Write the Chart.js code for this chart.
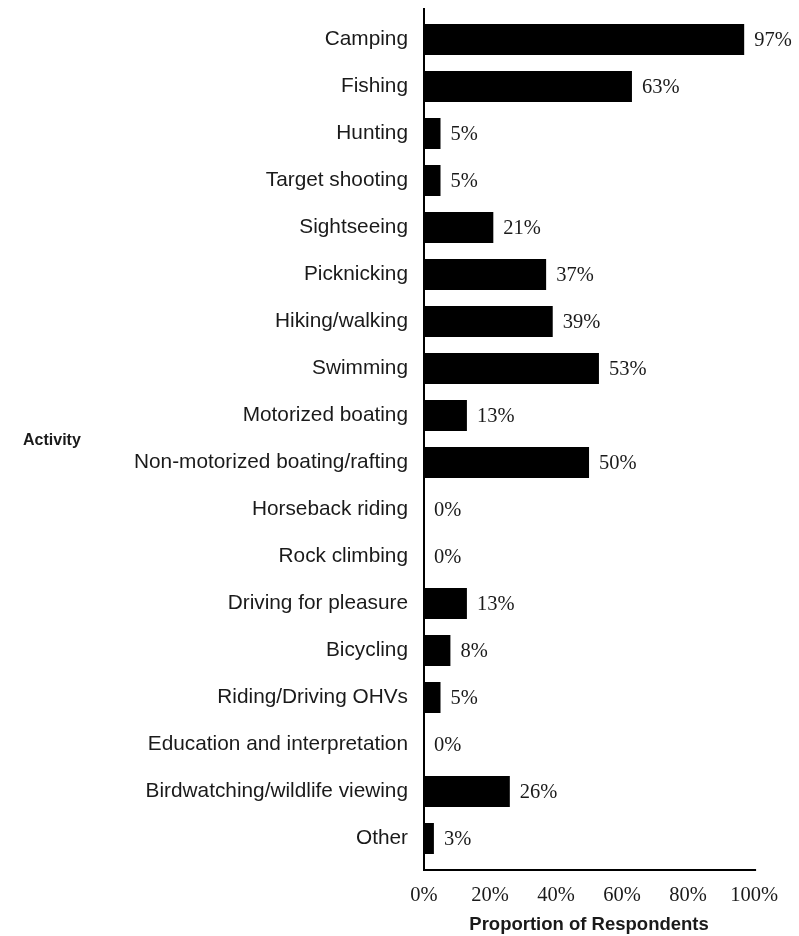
<!DOCTYPE html>
<html>
<head>
<meta charset="utf-8">
<script src="https://cdn.jsdelivr.net/npm/chart.js@4/dist/chart.umd.min.js"></script>
<style>
  html, body { margin: 0; padding: 0; background: #ffffff; }
  #wrap { width: 799px; height: 936px; position: relative; }
</style>
</head>
<body>
<div id="wrap"><canvas id="activityChart"></canvas></div>
<script>
// Activity categories, top to bottom
let activityLabels = [
    "Camping",
    "Fishing",
    "Hunting",
    "Target shooting",
    "Sightseeing",
    "Picknicking",
    "Hiking/walking",
    "Swimming",
    "Motorized boating",
    "Non-motorized boating/rafting",
    "Horseback riding",
    "Rock climbing",
    "Driving for pleasure",
    "Bicycling",
    "Riding/Driving OHVs",
    "Education and interpretation",
    "Birdwatching/wildlife viewing",
    "Other"
];

// Proportion of respondents (%)
let proportionValues = [97, 63, 5, 5, 21, 37, 39, 53, 13, 50, 0, 0, 13, 8, 5, 0, 26, 3];

// x axis ticks
let xTickValues = [0, 20, 40, 60, 80, 100];

let serifFont = "'Liberation Serif', 'DejaVu Serif', serif";
let sansFont = "'Liberation Sans', Arial, sans-serif";

// axis lines, drawn a bit past the plot area like the original
let axisLinesPlugin = {
    id: 'axisLines',
    afterDatasetsDraw: function(chart) {
        let ctx = chart.ctx;
        let a = chart.chartArea;
        let ext = 8;
        ctx.save();
        ctx.strokeStyle = '#000000';
        ctx.lineWidth = 2;
        ctx.beginPath();
        ctx.moveTo(a.left, a.top - ext);
        ctx.lineTo(a.left, a.bottom + ext);
        ctx.lineTo(a.right + 2, a.bottom + ext);
        ctx.stroke();
        ctx.restore();
    }
};

// value labels at bar ends + "Activity" side title
let valueLabelsPlugin = {
    id: 'valueLabels',
    afterDraw: function(chart) {
        let ctx = chart.ctx;
        let meta = chart.getDatasetMeta(0);
        ctx.save();
        ctx.fillStyle = '#1a1a1a';
        ctx.font = "20.5px " + serifFont;
        ctx.textAlign = 'left';
        ctx.textBaseline = 'middle';
        for(let i=0; i<meta.data.length; i++){
            let bar = meta.data[i];
            ctx.fillText(proportionValues[i] + '%', bar.x + 10, bar.y + 1);
        }
        let yScale = chart.scales.y;
        ctx.font = "bold 16px " + sansFont;
        ctx.textAlign = 'left';
        ctx.fillText('Activity', 23, (yScale.top + yScale.bottom) / 2 + 2);
        ctx.restore();
    }
};

let ctxActivity = document.getElementById('activityChart');
new Chart(ctxActivity, {
    type: 'bar',
    data: {
        labels: activityLabels,
        datasets: [
            {
                label: "Proportion of Respondents",
                data: proportionValues,
                backgroundColor: '#000000',
                borderWidth: 0,
                barPercentage: 0.66,
                categoryPercentage: 1.0
            }
        ]
    },
    options: {
        indexAxis: 'y',
        responsive: true,
        maintainAspectRatio: false,
        animation: false,
        layout: {
            padding: { top: 16, right: 43, bottom: 0, left: 0 }
        },
        plugins: {
            legend: { display: false },
            tooltip: { enabled: false }
        },
        scales: {
            x: {
                min: 0,
                max: 100,
                afterBuildTicks: function(scale) {
                    scale.ticks = xTickValues.map(function(v) { return { value: v }; });
                },
                afterFit: function(scale) {
                    scale.height = 74;
                },
                grid: { display: false, drawTicks: false },
                border: { display: false },
                ticks: {
                    padding: 21,
                    color: '#1a1a1a',
                    font: { family: serifFont, size: 20.5 },
                    callback: function(value) { return value + '%'; }
                },
                title: {
                    display: true,
                    text: 'Proportion of Respondents',
                    color: '#1a1a1a',
                    font: { family: sansFont, size: 18.5, weight: 'bold' },
                    padding: { top: 2, bottom: 0 }
                }
            },
            y: {
                afterFit: function(scale) {
                    scale.width = 424;
                    scale.paddingTop = 0;
                    scale.paddingBottom = 0;
                },
                grid: { display: false, drawTicks: false },
                border: { display: false },
                ticks: {
                    padding: 16,
                    color: '#1a1a1a',
                    autoSkip: false,
                    font: { family: sansFont, size: 20.8 }
                }
            }
        }
    },
    plugins: [axisLinesPlugin, valueLabelsPlugin]
});
</script>
</body>
</html>
